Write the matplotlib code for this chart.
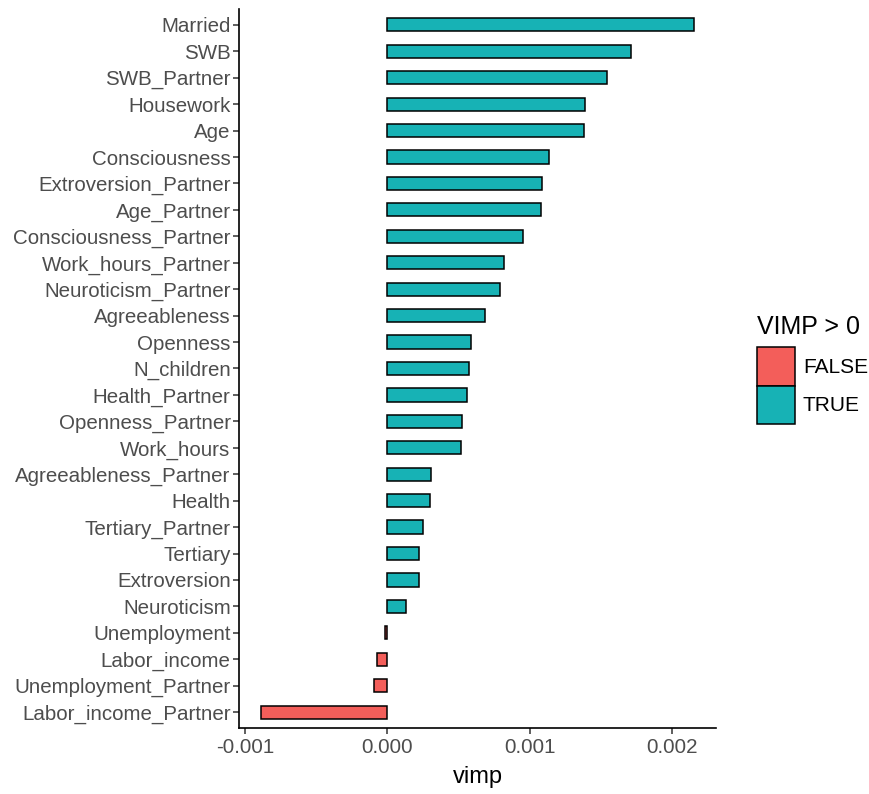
import numpy as np
import matplotlib
matplotlib.use("Agg")
import matplotlib.pyplot as plt
from matplotlib.patches import Patch

plt.rcParams['font.family'] = ['Liberation Sans', 'DejaVu Sans']

# variable importance (top to bottom)
variables = ["Married", "SWB", "SWB_Partner", "Housework", "Age", "Consciousness",
             "Extroversion_Partner", "Age_Partner", "Consciousness_Partner",
             "Work_hours_Partner", "Neuroticism_Partner", "Agreeableness", "Openness",
             "N_children", "Health_Partner", "Openness_Partner", "Work_hours",
             "Agreeableness_Partner", "Health", "Tertiary_Partner", "Tertiary",
             "Extroversion", "Neuroticism", "Unemployment", "Labor_income",
             "Unemployment_Partner", "Labor_income_Partner"]
vimp = [0.002156, 0.001712, 0.001540, 0.001389, 0.001380, 0.001133,
        0.001087, 0.001075, 0.000949, 0.000816, 0.000791, 0.000686, 0.000584,
        0.000572, 0.000560, 0.000525, 0.000518, 0.000307, 0.000302, 0.000253,
        0.000223, 0.000218, 0.000128, -0.000020, -0.000072, -0.000093, -0.000891]
x_ticks = [-0.001, 0.0, 0.001, 0.002]
x_tick_labels = ["-0.001", "0.000", "0.001", "0.002"]
legend_labels = ["FALSE", "TRUE"]

col_false = "#F35E5A"
col_true = "#17B2B5"

fig = plt.figure(figsize=(8.69, 7.94), dpi=100)
ax = fig.add_axes([0.275, 0.0831, 0.549, 0.9056])

vimp = np.array(vimp)
colors = np.where(vimp > 0, col_true, col_false)
ypos = np.arange(len(variables))
ax.barh(ypos, vimp, height=0.5, color=colors, edgecolor="black", linewidth=1.1)

ax.set_yticks(ypos)
ax.set_yticklabels(variables)
ax.set_ylim(len(variables) - 0.4, -0.6)

lo, hi = vimp.min(), vimp.max()
pad = (hi - lo) * 0.05
ax.set_xlim(lo - pad, hi + pad)
ax.set_xticks(x_ticks)
ax.set_xticklabels(x_tick_labels)
ax.set_xlabel("vimp", fontsize=17, labelpad=6)

for s in ["top", "right"]:
    ax.spines[s].set_visible(False)
for s in ["left", "bottom"]:
    ax.spines[s].set_linewidth(1.2)
ax.tick_params(axis="both", length=4, width=1.1, color="#333333",
               labelsize=14.8, labelcolor="#4D4D4D", pad=2)
ax.tick_params(axis="x", pad=3.5)

handles = [Patch(facecolor=col_false, edgecolor="black", linewidth=1.1),
           Patch(facecolor=col_true, edgecolor="black", linewidth=1.1)]
leg = fig.legend(handles, legend_labels, title="VIMP > 0",
                 loc="upper left", bbox_to_anchor=(757 / 869, 1 - 315 / 794),
                 frameon=False, fontsize=15, title_fontsize=18,
                 handlelength=1.8, handleheight=2.45, labelspacing=0.0,
                 handletextpad=0.4, borderpad=0, borderaxespad=0)
leg._legend_box.align = "left"
leg._legend_box.sep = 6  # gap between title and keys

fig.savefig("out.png", dpi=100)
